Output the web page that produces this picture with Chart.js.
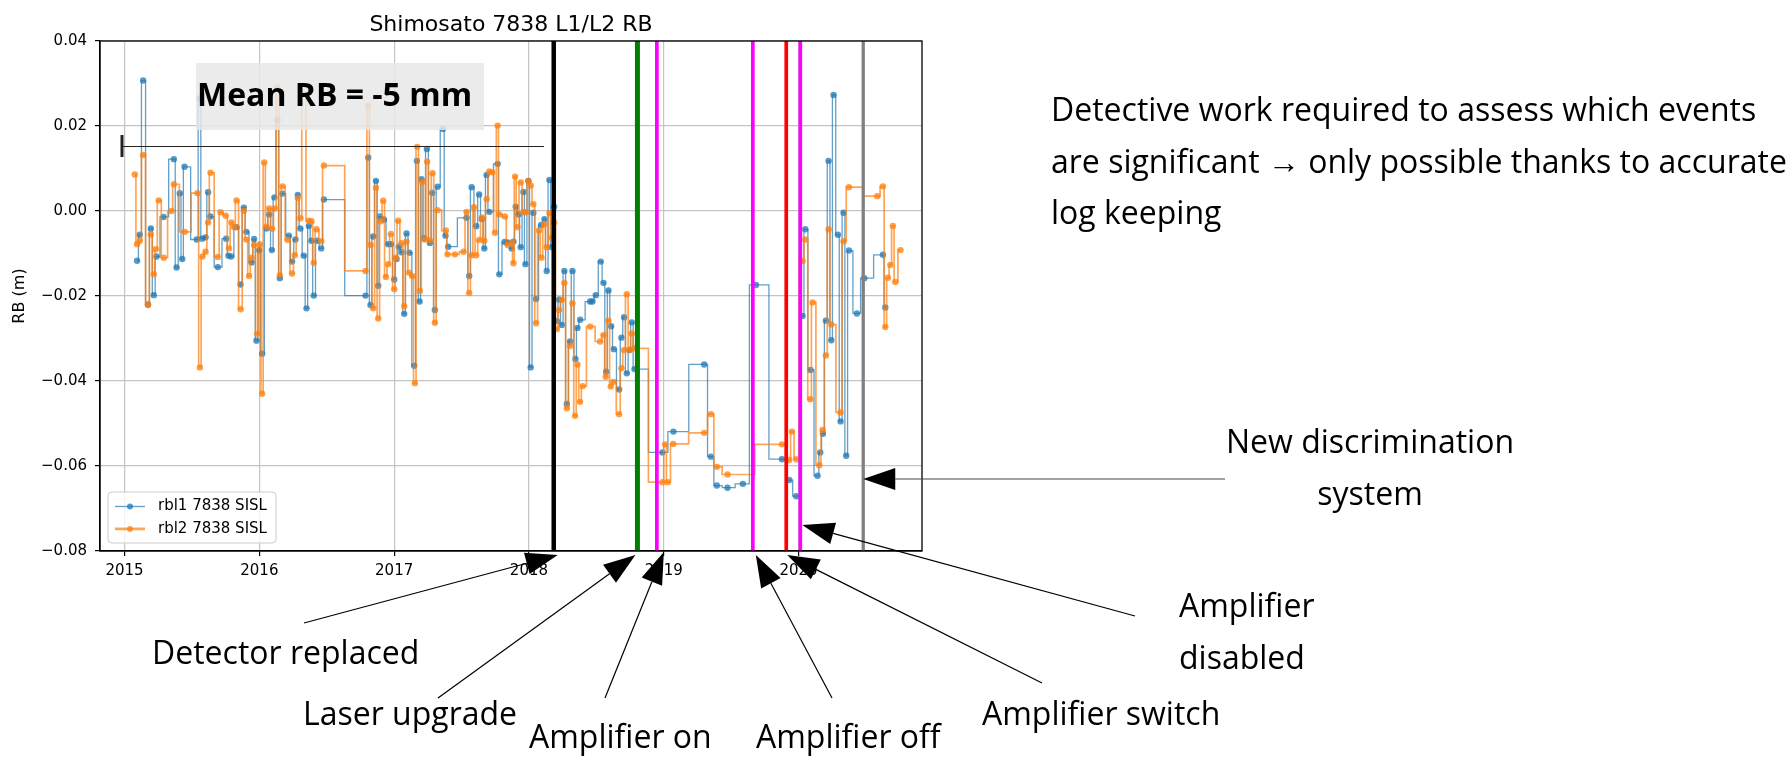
<!DOCTYPE html>
<html>
<head>
<meta charset="utf-8">
<title>Shimosato 7838 L1/L2 RB</title>
<script src="https://cdn.jsdelivr.net/npm/chart.js@4.4.1/dist/chart.umd.min.js"></script>
<style>
    html, body { margin: 0; padding: 0; background: #fff; }
</style>
</head>
<body>
<canvas id="canvasRB" width="1790" height="757"></canvas>
<script>
"use strict";

// rbl1 7838 SISL: epoch (decimal year) and range bias (m)
var rbl1Epochs = [
    2015.093, 2015.113, 2015.138, 2015.174, 2015.195, 2015.217, 2015.237, 2015.289, 2015.366, 2015.386,
    2015.410, 2015.428, 2015.445, 2015.536, 2015.556, 2015.576, 2015.601, 2015.620, 2015.638, 2015.692,
    2015.754, 2015.771, 2015.791, 2015.831, 2015.861, 2015.885, 2015.904, 2015.942, 2015.961, 2015.979,
    2015.999, 2016.021, 2016.053, 2016.073, 2016.093, 2016.112, 2016.135, 2016.152, 2016.172, 2016.219,
    2016.243, 2016.268, 2016.285, 2016.305, 2016.330, 2016.350, 2016.367, 2016.387, 2016.404, 2016.429,
    2016.459, 2016.479, 2016.788, 2016.808, 2016.825, 2016.845, 2016.865, 2016.882, 2016.894, 2016.924,
    2016.956, 2016.976, 2017.001, 2017.018, 2017.035, 2017.055, 2017.075, 2017.092, 2017.114, 2017.149,
    2017.169, 2017.189, 2017.203, 2017.223, 2017.243, 2017.265, 2017.283, 2017.302, 2017.322, 2017.362,
    2017.381, 2017.401, 2017.537, 2017.557, 2017.575, 2017.609, 2017.631, 2017.651, 2017.669, 2017.686,
    2017.706, 2017.768, 2017.780, 2017.820, 2017.842, 2017.872, 2017.885, 2017.902, 2017.922, 2017.939,
    2017.959, 2017.974, 2017.996, 2018.013, 2018.033, 2018.053, 2018.090, 2018.115, 2018.132, 2018.152,
    2018.169, 2018.187, 2018.207, 2018.224, 2018.244, 2018.263, 2018.281, 2018.305, 2018.323, 2018.345,
    2018.360, 2018.380, 2018.454, 2018.471, 2018.496, 2018.533, 2018.553, 2018.573, 2018.590, 2018.610,
    2018.630, 2018.669, 2018.686, 2018.706, 2018.726, 2018.746, 2018.763, 2018.783, 2018.990, 2019.072,
    2019.300, 2019.350, 2019.394, 2019.473, 2019.587, 2019.684, 2019.877, 2019.931, 2019.983, 2020.030,
    2020.050, 2020.089, 2020.141, 2020.161, 2020.181, 2020.203, 2020.223, 2020.243, 2020.260, 2020.292,
    2020.312, 2020.334, 2020.354, 2020.374, 2020.433, 2020.488, 2020.626, 2020.644
];
var rbl1Bias = [
    -0.0117, -0.0056, 0.0307, -0.0220, -0.0041, -0.0198, -0.0107, -0.0014, 0.0122, -0.0133,
    0.0042, -0.0113, 0.0104, -0.0067, 0.0265, -0.0065, -0.0062, 0.0044, -0.0013, -0.0132,
    -0.0065, -0.0105, -0.0107, -0.0038, -0.0173, 0.0008, -0.0049, -0.0121, -0.0066, -0.0305,
    -0.0092, -0.0336, -0.0041, -0.0008, -0.0092, 0.0032, 0.0214, -0.0158, 0.0041, -0.0058,
    -0.0119, -0.0067, 0.0038, -0.0041, -0.0105, -0.0229, -0.0035, -0.0070, -0.0199, -0.0070,
    -0.0088, 0.0027, -0.0199, 0.0126, -0.0221, -0.0060, 0.0071, -0.0176, -0.0013, -0.0020,
    -0.0078, -0.0078, -0.0161, -0.0113, -0.0084, -0.0097, -0.0242, -0.0053, -0.0098, -0.0364,
    0.0118, -0.0213, 0.0075, -0.0064, 0.0146, -0.0075, 0.0043, -0.0233, 0.0057, 0.0193,
    -0.0058, -0.0084, -0.0016, -0.0153, 0.0056, -0.0036, 0.0039, -0.0019, -0.0088, 0.0085,
    -0.0002, 0.0111, -0.0149, -0.0073, -0.0074, -0.0088, -0.0072, 0.0010, -0.0008, -0.0085,
    0.0045, -0.0125, 0.0071, -0.0368, -0.0004, -0.0207, -0.0033, -0.0019, -0.0141, 0.0073,
    -0.0085, 0.0010, -0.0259, -0.0208, -0.0268, -0.0141, -0.0454, -0.0307, -0.0141, -0.0348,
    -0.0275, -0.0256, -0.0213, -0.0213, -0.0198, -0.0119, -0.0169, -0.0378, -0.0187, -0.0271,
    -0.0325, -0.0420, -0.0298, -0.0250, -0.0382, -0.0327, -0.0262, -0.0372, -0.0568, -0.0519,
    -0.0361, -0.0578, -0.0646, -0.0651, -0.0642, -0.0174, -0.0584, -0.0633, -0.0671, -0.0247,
    -0.0043, -0.0374, -0.0623, -0.0568, -0.0524, -0.0258, 0.0118, -0.0304, 0.0273, -0.0056,
    -0.0495, -0.0004, -0.0576, -0.0093, -0.0241, -0.0158, -0.0103, -0.0227
];

// rbl2 7838 SISL
var rbl2Epochs = [
    2015.076, 2015.093, 2015.113, 2015.138, 2015.174, 2015.195, 2015.217, 2015.232, 2015.254, 2015.291,
    2015.348, 2015.366, 2015.447, 2015.541, 2015.559, 2015.578, 2015.601, 2015.620, 2015.638, 2015.692,
    2015.712, 2015.751, 2015.774, 2015.793, 2015.813, 2015.831, 2015.861, 2015.885, 2015.904, 2015.924,
    2015.942, 2015.961, 2015.984, 2016.003, 2016.021, 2016.036, 2016.053, 2016.073, 2016.095, 2016.115,
    2016.135, 2016.152, 2016.172, 2016.211, 2016.243, 2016.263, 2016.285, 2016.305, 2016.325, 2016.367,
    2016.387, 2016.404, 2016.424, 2016.459, 2016.479, 2016.788, 2016.808, 2016.825, 2016.845, 2016.865,
    2016.882, 2016.902, 2016.919, 2016.939, 2016.956, 2016.976, 2017.001, 2017.013, 2017.030, 2017.055,
    2017.075, 2017.092, 2017.112, 2017.134, 2017.154, 2017.171, 2017.191, 2017.211, 2017.226, 2017.245,
    2017.265, 2017.285, 2017.302, 2017.322, 2017.384, 2017.396, 2017.451, 2017.515, 2017.537, 2017.557,
    2017.575, 2017.592, 2017.609, 2017.631, 2017.651, 2017.669, 2017.686, 2017.706, 2017.728, 2017.748,
    2017.768, 2017.780, 2017.822, 2017.842, 2017.872, 2017.885, 2017.897, 2017.914, 2017.939, 2017.959,
    2017.979, 2017.996, 2018.013, 2018.033, 2018.053, 2018.075, 2018.093, 2018.112, 2018.132, 2018.152,
    2018.169, 2018.187, 2018.207, 2018.224, 2018.244, 2018.263, 2018.281, 2018.305, 2018.323, 2018.342,
    2018.360, 2018.379, 2018.399, 2018.454, 2018.528, 2018.553, 2018.570, 2018.590, 2018.607, 2018.627,
    2018.669, 2018.686, 2018.706, 2018.726, 2018.746, 2018.763, 2018.783, 2018.990, 2019.010, 2019.030,
    2019.070, 2019.300, 2019.350, 2019.394, 2019.473, 2019.877, 2019.931, 2019.951, 2019.983, 2020.030,
    2020.050, 2020.087, 2020.104, 2020.154, 2020.179, 2020.203, 2020.223, 2020.243, 2020.312, 2020.334,
    2020.374, 2020.584, 2020.626, 2020.644, 2020.663, 2020.681, 2020.700, 2020.718, 2020.757
];
var rbl2Bias = [
    0.0086, -0.0078, -0.0070, 0.0132, -0.0221, -0.0055, -0.0149, -0.0090, 0.0025, -0.0110,
    0.0000, 0.0063, -0.0049, 0.0042, -0.0368, -0.0107, -0.0096, -0.0027, 0.0090, -0.0108,
    -0.0003, -0.0011, -0.0088, -0.0027, -0.0038, 0.0025, -0.0231, 0.0000, -0.0067, -0.0153,
    -0.0110, -0.0080, -0.0289, -0.0078, -0.0430, 0.0114, -0.0037, 0.0006, -0.0042, 0.0006,
    0.0291, -0.0151, 0.0058, -0.0068, -0.0147, -0.0104, 0.0031, -0.0017, 0.0275, -0.0023,
    -0.0024, -0.0122, -0.0043, -0.0071, 0.0107, -0.0141, 0.0247, -0.0080, -0.0229, 0.0055,
    -0.0253, -0.0024, 0.0024, -0.0155, -0.0125, -0.0054, -0.0184, -0.0110, -0.0023, -0.0076,
    -0.0224, -0.0072, -0.0145, -0.0153, -0.0405, 0.0151, -0.0188, 0.0069, -0.0067, 0.0116,
    -0.0069, 0.0089, -0.0263, 0.0002, -0.0046, -0.0102, -0.0102, -0.0096, -0.0002, -0.0193,
    -0.0104, 0.0009, -0.0104, -0.0068, -0.0015, -0.0070, 0.0028, 0.0093, 0.0091, -0.0051,
    0.0201, -0.0008, -0.0013, -0.0080, -0.0076, -0.0123, 0.0081, -0.0038, 0.0067, -0.0003,
    -0.0003, 0.0071, 0.0060, 0.0016, -0.0264, -0.0046, -0.0110, -0.0031, -0.0085, -0.0005,
    -0.0063, -0.0027, -0.0278, -0.0233, -0.0209, -0.0169, -0.0464, -0.0317, -0.0217, -0.0482,
    -0.0361, -0.0449, -0.0412, -0.0272, -0.0307, -0.0292, -0.0390, -0.0258, -0.0413, -0.0402,
    -0.0478, -0.0370, -0.0327, -0.0196, -0.0327, -0.0288, -0.0323, -0.0638, -0.0549, -0.0638,
    -0.0548, -0.0522, -0.0478, -0.0602, -0.0620, -0.0549, -0.0586, -0.0519, -0.0584, -0.0118,
    -0.0067, -0.0443, -0.0215, -0.0598, -0.0515, -0.0340, -0.0043, -0.0267, -0.0474, -0.0071,
    0.0056, 0.0035, 0.0058, -0.0273, -0.0157, -0.0127, -0.0035, -0.0167, -0.0092
];

// station log events
var eventEpochs = [2018.184, 2018.805, 2018.949, 2019.661, 2019.909, 2020.013, 2020.480];
var eventNames = ['Detector replaced', 'Laser upgrade', 'Amplifier on', 'Amplifier off',
                  'Amplifier switch', 'Amplifier disabled', 'New discrimination system'];

var xTickYears = [2015, 2016, 2017, 2018, 2019, 2020];
var yTickValues = [-0.08, -0.06, -0.04, -0.02, 0.00, 0.02, 0.04];

var meanNote = 'Mean RB = -5 mm';
var logNote = ['Detective work required to assess which events',
               'are significant \u2192 only possible thanks to accurate',
               'log keeping'];

// styles
var eventColors = ['#000000', '#008000', '#ff00ff', '#ff00ff', '#ff0000', '#ff00ff', '#808080'];
var eventWidths = [4.5, 5, 3.7, 3.7, 3.7, 3.7, 3.3];
var slideFont = "'Open Sans', 'Noto Sans', sans-serif";

// where each event label sits on the slide, and where its arrow starts
var eventNotes = [
    { lines: ['Detector replaced'], x: 152, y: 664, align: 'left', tail: [304, 623], tipY: 555, dx: 4 },
    { lines: ['Laser upgrade'], x: 303, y: 725, align: 'left', tail: [438, 698], tipY: 555, dx: -2 },
    { lines: ['Amplifier on'], x: 529, y: 748, align: 'left', tail: [605, 698], tipY: 552, dx: 7 },
    { lines: ['Amplifier off'], x: 756, y: 748, align: 'left', tail: [832, 698], tipY: 555, dx: 3 },
    { lines: ['Amplifier switch'], x: 982, y: 725, align: 'left', tail: [1042, 683], tipY: 555, dx: 1 },
    { lines: ['Amplifier', 'disabled'], x: 1179, y: 617, align: 'left', tail: [1135, 616], tipY: 525, dx: 2 },
    { lines: ['New discrimination', 'system'], x: 1370, y: 453, align: 'center', tail: [1225, 479], tipY: 479, dx: 0, gray: true }
];

function ToPoints(xs, ys) {
    return xs.map(function (x, i) { return { x: x, y: ys[i] }; });
}

function DrawArrow(ctx, x0, y0, x1, y1, lineColor) {
    var ang = Math.atan2(y1 - y0, x1 - x0);
    var headLen = 32, headHalf = 11;
    var bx = x1 - headLen * Math.cos(ang);
    var by = y1 - headLen * Math.sin(ang);
    ctx.strokeStyle = lineColor;
    ctx.lineWidth = 1.2;
    ctx.beginPath();
    ctx.moveTo(x0, y0);
    ctx.lineTo(bx, by);
    ctx.stroke();
    ctx.fillStyle = '#000';
    ctx.beginPath();
    ctx.moveTo(x1, y1);
    ctx.lineTo(bx + headHalf * Math.sin(ang), by - headHalf * Math.cos(ang));
    ctx.lineTo(bx - headHalf * Math.sin(ang), by + headHalf * Math.cos(ang));
    ctx.closePath();
    ctx.fill();
}

// vertical event markers plus the closed axes frame
const eventLines = {
    id: 'eventLines',
    afterDatasetsDraw(chart) {
        const { ctx, chartArea: a, scales: { x } } = chart;
        ctx.save();
        eventEpochs.forEach(function (t, i) {
            var px = x.getPixelForValue(t);
            ctx.strokeStyle = eventColors[i];
            ctx.lineWidth = eventWidths[i];
            ctx.beginPath();
            ctx.moveTo(px, a.top);
            ctx.lineTo(px, a.bottom);
            ctx.stroke();
        });
        ctx.strokeStyle = '#000';
        ctx.lineWidth = 1.3;
        ctx.strokeRect(a.left, a.top, a.right - a.left, a.bottom - a.top);
        ctx.restore();
    }
};

// title, legend, mean box and the slide annotations around the plot
const slideOverlay = {
    id: 'slideOverlay',
    afterDraw(chart) {
        const { ctx, chartArea: a, scales: { x } } = chart;
        ctx.save();

        ctx.fillStyle = '#000';
        ctx.font = "22px 'DejaVu Sans'";
        ctx.textAlign = 'center';
        ctx.textBaseline = 'alphabetic';
        ctx.fillText('Shimosato 7838 L1/L2 RB', (a.left + a.right) / 2, a.top - 10);

        // mean box
        ctx.fillStyle = 'rgba(232, 232, 232, 0.85)';
        ctx.fillRect(a.left + 96, a.top + 22, 288, 67);
        ctx.fillStyle = '#000';
        ctx.font = "bold 32px " + slideFont;
        ctx.textAlign = 'left';
        ctx.fillText(meanNote, a.left + 97, a.top + 65);

        ctx.strokeStyle = '#222';
        ctx.lineWidth = 1;
        ctx.beginPath();
        ctx.moveTo(a.left + 22, a.top + 105.5);
        ctx.lineTo(a.left + 444, a.top + 105.5);
        ctx.stroke();
        ctx.lineWidth = 3;
        ctx.beginPath();
        ctx.moveTo(a.left + 22, a.top + 94);
        ctx.lineTo(a.left + 22, a.top + 116);
        ctx.stroke();

        // legend
        var lx = a.left + 8, ly = a.bottom - 59;
        ctx.beginPath();
        ctx.roundRect(lx, ly, 168, 51, 4);
        ctx.fillStyle = 'rgba(255, 255, 255, 0.8)';
        ctx.fill();
        ctx.strokeStyle = '#cccccc';
        ctx.lineWidth = 1;
        ctx.stroke();
        chart.data.datasets.forEach(function (ds, i) {
            var cy = ly + 14.5 + i * 22.4;
            ctx.strokeStyle = ds.borderColor;
            ctx.lineWidth = ds.borderWidth + (i === 1 ? 1 : 0);
            ctx.beginPath();
            ctx.moveTo(lx + 7, cy);
            ctx.lineTo(lx + 37, cy);
            ctx.stroke();
            ctx.fillStyle = ds.pointBackgroundColor;
            ctx.beginPath();
            ctx.arc(lx + 22, cy, 3, 0, Math.PI * 2);
            ctx.fill();
            ctx.fillStyle = '#000';
            ctx.font = "15px 'DejaVu Sans'";
            ctx.textBaseline = 'middle';
            ctx.fillText(ds.label, lx + 50, cy);
        });

        // event annotations
        ctx.textBaseline = 'alphabetic';
        ctx.font = "32px " + slideFont;
        eventNotes.forEach(function (n, i) {
            ctx.fillStyle = '#000';
            ctx.textAlign = n.align;
            n.lines.forEach(function (s, k) {
                ctx.fillText(s, n.x, n.y + k * 52);
            });
            var tipX = x.getPixelForValue(eventEpochs[i]) + n.dx;
            DrawArrow(ctx, n.tail[0], n.tail[1], tipX, n.tipY, n.gray ? '#444' : '#000');
        });

        ctx.textAlign = 'left';
        ctx.fillStyle = '#000';
        logNote.forEach(function (s, k) {
            ctx.fillText(s, 1051, 121 + k * 51.5);
        });

        ctx.restore();
    }
};

Chart.defaults.font.family = "'DejaVu Sans', sans-serif";
Chart.defaults.color = '#000';

const context = document.getElementById('canvasRB');
const rbChart = new Chart(context, {
    type: 'line',
    data: {
        datasets: [{
            label: 'rbl1 7838 SISL',
            data: ToPoints(rbl1Epochs, rbl1Bias),
            stepped: 'middle',
            borderColor: 'rgba(31, 119, 180, 0.7)',
            borderWidth: 1.3,
            pointBackgroundColor: 'rgba(31, 119, 180, 0.75)',
            pointBorderWidth: 0,
            pointRadius: 3.2,
            order: 2
        }, {
            label: 'rbl2 7838 SISL',
            data: ToPoints(rbl2Epochs, rbl2Bias),
            stepped: 'middle',
            borderColor: 'rgba(255, 127, 14, 0.7)',
            borderWidth: 1.7,
            pointBackgroundColor: 'rgba(255, 127, 14, 0.75)',
            pointBorderWidth: 0,
            pointRadius: 3.2,
            order: 1
        }]
    },
    options: {
        responsive: false,
        animation: false,
        devicePixelRatio: 1,
        events: [],
        layout: { padding: { left: 0, top: 41, right: 868, bottom: 176 } },
        plugins: {
            legend: { display: false },
            tooltip: { enabled: false }
        },
        scales: {
            x: {
                type: 'linear',
                min: 2014.818,
                max: 2020.916,
                afterBuildTicks: function (scale) {
                    scale.ticks = xTickYears.map(function (v) { return { value: v }; });
                },
                afterFit: function (scale) { scale.height = 30; },
                ticks: {
                    font: { size: 15 },
                    padding: 6,
                    maxRotation: 0,
                    callback: function (v) { return String(v); }
                },
                grid: { color: '#c4c4c4', lineWidth: 1.2, tickColor: '#000', tickLength: 5 },
                border: { color: '#000', width: 1.3 }
            },
            y: {
                min: -0.08,
                max: 0.04,
                afterBuildTicks: function (scale) {
                    scale.ticks = yTickValues.map(function (v) { return { value: v }; });
                },
                afterFit: function (scale) { scale.width = 100; },
                title: { display: true, text: 'RB (m)', font: { size: 16 }, padding: { top: 10, bottom: 0 } },
                ticks: {
                    font: { size: 15 },
                    padding: 8,
                    callback: function (v) { return v.toFixed(2).replace('-', '\u2212'); }
                },
                grid: { color: '#c4c4c4', lineWidth: 1.2, tickColor: '#000', tickLength: 5 },
                border: { color: '#000', width: 1.3 }
            }
        }
    },
    plugins: [eventLines, slideOverlay]
});
</script>
</body>
</html>
